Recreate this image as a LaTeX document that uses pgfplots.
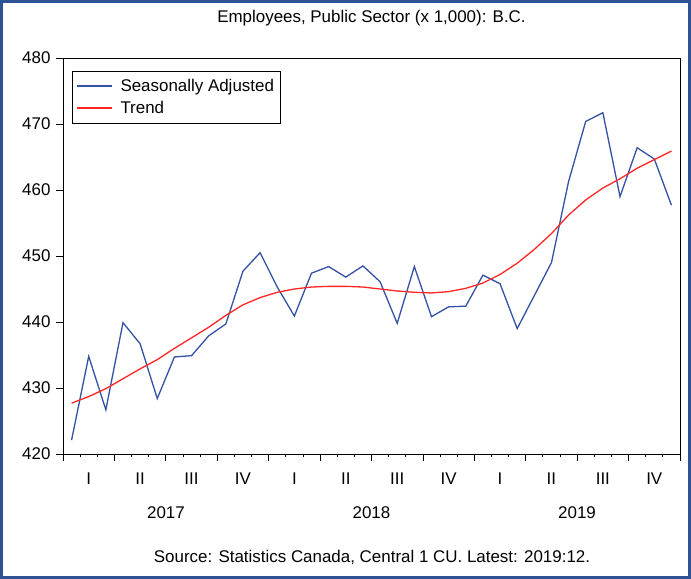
\documentclass[border=0pt]{standalone}
\usepackage{fontspec}
\setmainfont{Liberation Sans}
\usepackage{pgfplots}
\usepackage{pgfplotstable}
\pgfplotsset{compat=1.18}
\definecolor{sablue}{HTML}{3452A4}
\definecolor{trendred}{HTML}{FF2626}
\definecolor{frameblue}{HTML}{2E5395}

% month index (centre of month), seasonally adjusted, trend
\pgfplotstableread{
m    sa     trend
0.5  422.1  427.7
1.5  434.8  428.7
2.5  426.7  429.9
3.5  439.9  431.4
4.5  436.7  432.9
5.5  428.4  434.3
6.5  434.7  436.0
7.5  434.9  437.6
8.5  437.9  439.2
9.5  439.7  441.0
10.5 447.7  442.6
11.5 450.5  443.7
12.5 445.3  444.5
13.5 440.9  445.0
14.5 447.4  445.3
15.5 448.4  445.4
16.5 446.8  445.4
17.5 448.5  445.3
18.5 446.1  445.0
19.5 439.8  444.7
20.5 448.4  444.5
21.5 440.8  444.4
22.5 442.3  444.6
23.5 442.4  445.1
24.5 447.1  445.9
25.5 445.8  447.2
26.5 439.0  448.9
27.5 444.0  451.0
28.5 449.0  453.4
29.5 461.3  456.2
30.5 470.4  458.5
31.5 471.7  460.3
32.5 459.0  461.7
33.5 466.4  463.3
34.5 464.7  464.6
35.5 457.7  465.9
}\datatable

\newcommand\chartfont{\fontsize{17}{20}\selectfont}

\begin{document}
\begin{tikzpicture}
\fill[white] (0bp,0bp) rectangle (691bp,579bp);
\draw[frameblue, line width=3bp] (1.5bp,1.5bp) rectangle (689.5bp,577.5bp);
\begin{axis}[
  at={(63bp,125bp)}, anchor=south west,
  width=617bp, height=396bp, scale only axis,
  xmin=0, xmax=36, ymin=420, ymax=480,
  axis line style={black, line width=0.8bp},
  font=\chartfont,
  /pgf/number format/assume math mode=true,
  ytick={420,430,...,480}, ytick pos=left,
  xtick={0,3,...,36},
  xticklabels={I,II,III,IV,I,II,III,IV,I,II,III,IV,{}},
  xtick pos=bottom,
  tick align=outside,
  major tick length=7bp,
  minor tick length=3.5bp,
  minor xtick={0,1,...,36},
  tick style={black, line width=0.8bp},
  xticklabel style={xshift=25.7bp, yshift=-8bp},
  yticklabel style={xshift=-2bp},
  legend style={at={(0.0146,0.967)}, anchor=north west, draw=black,
    font=\chartfont, inner xsep=4bp, inner ysep=6bp, row sep=4bp},
  legend cell align=left,
  legend image code/.code={\draw[#1] (0bp,0bp) -- (35bp,0bp); \path (41bp,0bp);},
]
\addplot[sablue, line width=1.3bp] table[x=m, y=sa] {\datatable};
\addlegendentry{Seasonally Adjusted}
\addplot[trendred, line width=1.3bp] table[x=m, y=trend] {\datatable};
\addlegendentry{Trend}
\end{axis}
\node[font=\chartfont] at (371.5bp,561bp) {Employees, Public Sector (x 1,000): B.C.};
\node[font=\chartfont] at (166bp,66bp) {2017};
\node[font=\chartfont] at (371.5bp,66bp) {2018};
\node[font=\chartfont] at (577bp,66bp) {2019};
\node[font=\chartfont] at (372bp,22bp) {Source: Statistics Canada, Central 1 CU. Latest: 2019:12.};
\pgfresetboundingbox
\path (0bp,0bp) rectangle (691bp,579bp);
\end{tikzpicture}
\end{document}
